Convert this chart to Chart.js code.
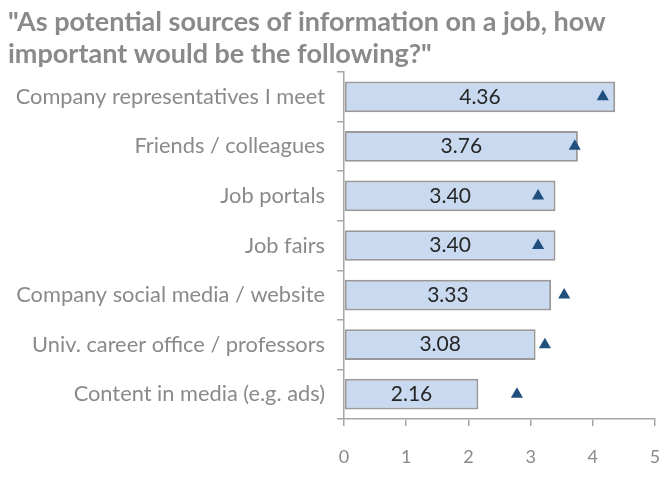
<!DOCTYPE html>
<html>
<head>
<meta charset="utf-8">
<script src="https://cdn.jsdelivr.net/npm/chart.js@4/dist/chart.umd.min.js"></script>
<style>
  html, body { margin: 0; padding: 0; background: #ffffff; }
  #wrap { width: 662px; height: 479px; }
</style>
</head>
<body>
<div id="wrap"><canvas id="c" width="662" height="479"></canvas></div>
<script>
// Survey: importance of information sources (mean score, 0–5 scale)
const categories = [
  'Company representatives I meet',
  'Friends / colleagues',
  'Job portals',
  'Job fairs',
  'Company social media / website',
  'Univ. career office / professors',
  'Content in media (e.g. ads)'
];
const meanScores = [4.36, 3.76, 3.40, 3.40, 3.33, 3.08, 2.16];
const comparisonScores = [4.16, 3.71, 3.12, 3.12, 3.54, 3.23, 2.78];
const xTicks = [0, 1, 2, 3, 4, 5];
const titleLines = ['"As potential sources of information on a job, how', 'important would be the following?"'];

const FONT = 'Lato, "Open Sans", sans-serif';
const GREY_TEXT = '#8a8a8a';
const AXIS = '#a6a6a6';

// Writes each bar's value in the middle of the bar
const barValueLabels = {
  id: 'barValueLabels',
  afterDatasetsDraw(chart) {
    const ctx = chart.ctx;
    const meta = chart.getDatasetMeta(0);
    ctx.save();
    ctx.font = '21px ' + FONT;
    ctx.fillStyle = '#262626';
    ctx.textAlign = 'center';
    ctx.textBaseline = 'middle';
    meta.data.forEach((bar, i) => {
      const v = chart.data.datasets[0].data[i];
      ctx.fillText(v.toFixed(2), (bar.x + bar.base) / 2, bar.y);
    });
    ctx.restore();
  }
};

new Chart(document.getElementById('c'), {
  type: 'bar',
  data: {
    labels: categories,
    datasets: [
      {
        type: 'bar',
        data: meanScores,
        backgroundColor: '#c9daf0',
        borderColor: '#999999',
        borderWidth: 2,
        borderSkipped: false,
        barPercentage: 0.62,
        categoryPercentage: 1.0,
        order: 2
      },
      {
        type: 'line',
        indexAxis: 'y',
        data: comparisonScores,
        showLine: false,
        pointStyle: 'triangle',
        pointRadius: 7,
        pointHoverRadius: 7,
        pointBackgroundColor: '#21507f',
        pointBorderColor: '#21507f',
        pointBorderWidth: 0,
        order: 1
      }
    ]
  },
  options: {
    indexAxis: 'y',
    responsive: false,
    animation: false,
    devicePixelRatio: 1,
    layout: { padding: { left: 8, right: 5, top: 0, bottom: 0 } },
    plugins: {
      legend: { display: false },
      tooltip: { enabled: false },
      title: {
        display: true,
        text: titleLines,
        align: 'start',
        color: GREY_TEXT,
        font: { family: FONT, size: 27, weight: 'bold', lineHeight: 1.185 },
        padding: { top: 6, bottom: 2 }
      }
    },
    scales: {
      x: {
        min: 0,
        max: 5,
        afterBuildTicks(scale) { scale.ticks = xTicks.map(v => ({ value: v })); },
        afterFit(scale) {
          scale.height = 60;
          scale.paddingLeft = 0;
          scale.paddingRight = 0;
        },
        ticks: {
          color: GREY_TEXT,
          font: { family: FONT, size: 18 },
          padding: 20
        },
        grid: {
          display: true,
          drawOnChartArea: false,
          drawTicks: true,
          tickLength: 7,
          color: AXIS,
          lineWidth: 1.5
        },
        border: { display: true, color: AXIS, width: 1.5 }
      },
      y: {
        afterFit(scale) { scale.width = 336; },
        ticks: {
          color: GREY_TEXT,
          font: { family: FONT, size: 21.8 },
          padding: 12
        },
        grid: {
          display: true,
          offset: true,
          drawOnChartArea: false,
          drawTicks: true,
          tickLength: 7,
          color: AXIS,
          lineWidth: 1.5
        },
        border: { display: true, color: AXIS, width: 1.5 }
      }
    }
  },
  plugins: [barValueLabels]
});
</script>
</body>
</html>
